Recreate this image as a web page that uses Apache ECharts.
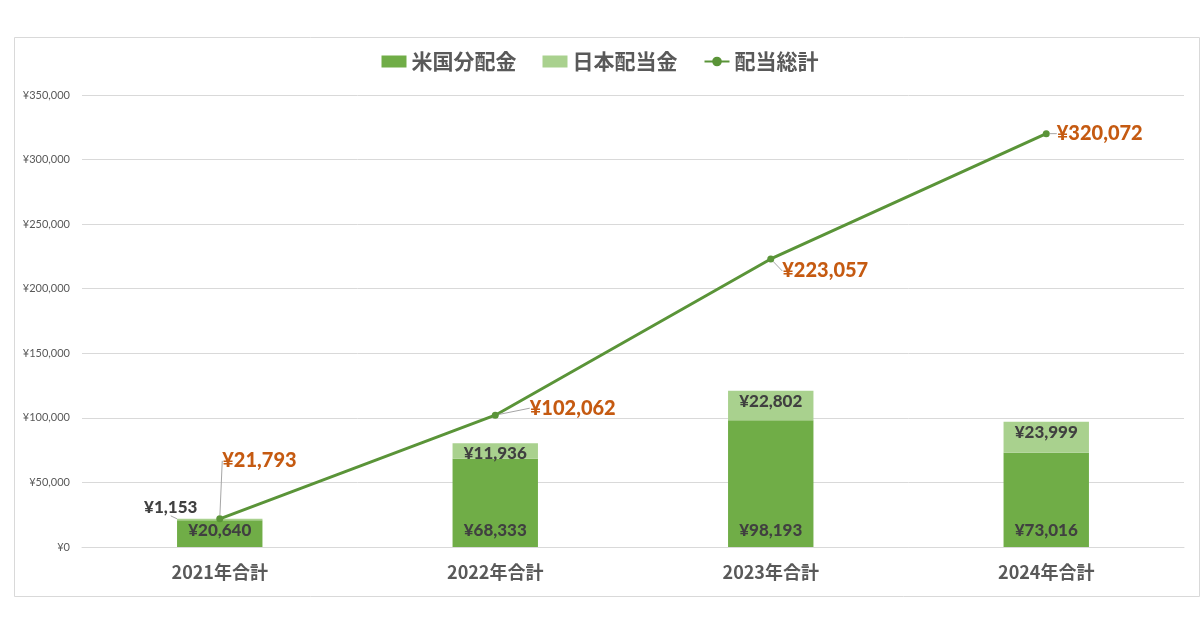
<!DOCTYPE html>
<html><head><meta charset="utf-8">
<script src="https://cdn.jsdelivr.net/npm/echarts@6/dist/echarts.min.js"></script>
<style>html,body{margin:0;padding:0;background:#fff}#c{width:1200px;height:630px}</style>
</head><body><div id="c"></div>
<script>
const categories = ['2021年合計','2022年合計','2023年合計','2024年合計'];
const usDividends = [20640, 68333, 98193, 73016];
const jpDividends = [1153, 11936, 22802, 23999];
const totalDividends = [21793, 102062, 223057, 320072];
const yTicks = {min: 0, max: 350000, interval: 50000};

const FONT = 'Lato, "Noto Sans CJK JP", sans-serif';
const JFONT = '"Noto Sans CJK JP", sans-serif';
const yen = v => '¥' + Number(v).toLocaleString('en-US');

const chart = echarts.init(document.getElementById('c'), null, {renderer: 'canvas'});
const lineOffsets = [[-6, -58], [26, -7], [3, 12], [2, 0]];

chart.setOption({
  animation: false,
  backgroundColor: '#fff',
  graphic: [{type: 'rect', left: 12, top: 35, shape: {width: 1185, height: 559},
    style: {fill: 'none', stroke: '#d9d9d9', lineWidth: 1}, silent: true}],
  legend: {
    top: 46, left: 'center', itemGap: 26, itemWidth: 25, itemHeight: 12,
    textStyle: {fontFamily: JFONT, fontSize: 21, fontWeight: 'bold', color: '#595959'},
    data: [{name: '米国分配金', icon: 'rect'}, {name: '日本配当金', icon: 'rect'}, {name: '配当総計'}]
  },
  grid: {left: 82, right: 16, top: 95, bottom: 83, containLabel: false},
  xAxis: {
    type: 'category', data: categories,
    axisLine: {show: true, lineStyle: {color: '#d9d9d9'}}, axisTick: {show: false},
    axisLabel: {fontFamily: JFONT, fontSize: 18, fontWeight: 'bold', color: '#595959', margin: 16}
  },
  yAxis: {
    type: 'value', min: yTicks.min, max: yTicks.max, interval: yTicks.interval,
    axisLine: {show: false}, axisTick: {show: false},
    splitLine: {lineStyle: {color: '#d9d9d9', width: 1}},
    axisLabel: {fontFamily: FONT, fontSize: 11, color: '#595959', margin: 12, formatter: v => yen(v)}
  },
  series: [
    {
      name: '米国分配金', type: 'bar', stack: 'div', barWidth: '31%', data: usDividends,
      itemStyle: {color: '#70AD47'},
      label: {show: true, position: 'insideBottom', distance: 8, formatter: p => yen(p.value),
        fontFamily: FONT, fontSize: 17, fontWeight: 900, color: '#404040'}
    },
    {
      name: '日本配当金', type: 'bar', stack: 'div', barWidth: '31%', data: jpDividends,
      itemStyle: {color: '#A9D18E'},
      label: {show: true, position: 'insideTop', distance: 2, formatter: p => yen(p.value),
        fontFamily: FONT, fontSize: 17, fontWeight: 900, color: '#404040'},
      labelLine: {show: true, lineStyle: {color: '#a6a6a6', width: 1}},
      labelLayout: p => p.dataIndex === 0 ? {dx: -49, dy: -22} : {}
    },
    {
      name: '配当総計', type: 'line', data: totalDividends, z: 5,
      symbol: 'circle', symbolSize: 7,
      lineStyle: {color: '#5A9438', width: 3}, itemStyle: {color: '#5A9438'},
      label: {show: true, position: 'right', distance: 5, formatter: p => yen(p.value),
        fontFamily: FONT, fontSize: 20, fontWeight: 900, color: '#C55A11'},
      labelLine: {show: true, lineStyle: {color: '#a6a6a6', width: 1}},
      labelLayout: p => ({dx: lineOffsets[p.dataIndex][0], dy: lineOffsets[p.dataIndex][1]})
    }
  ]
});
</script></body></html>
